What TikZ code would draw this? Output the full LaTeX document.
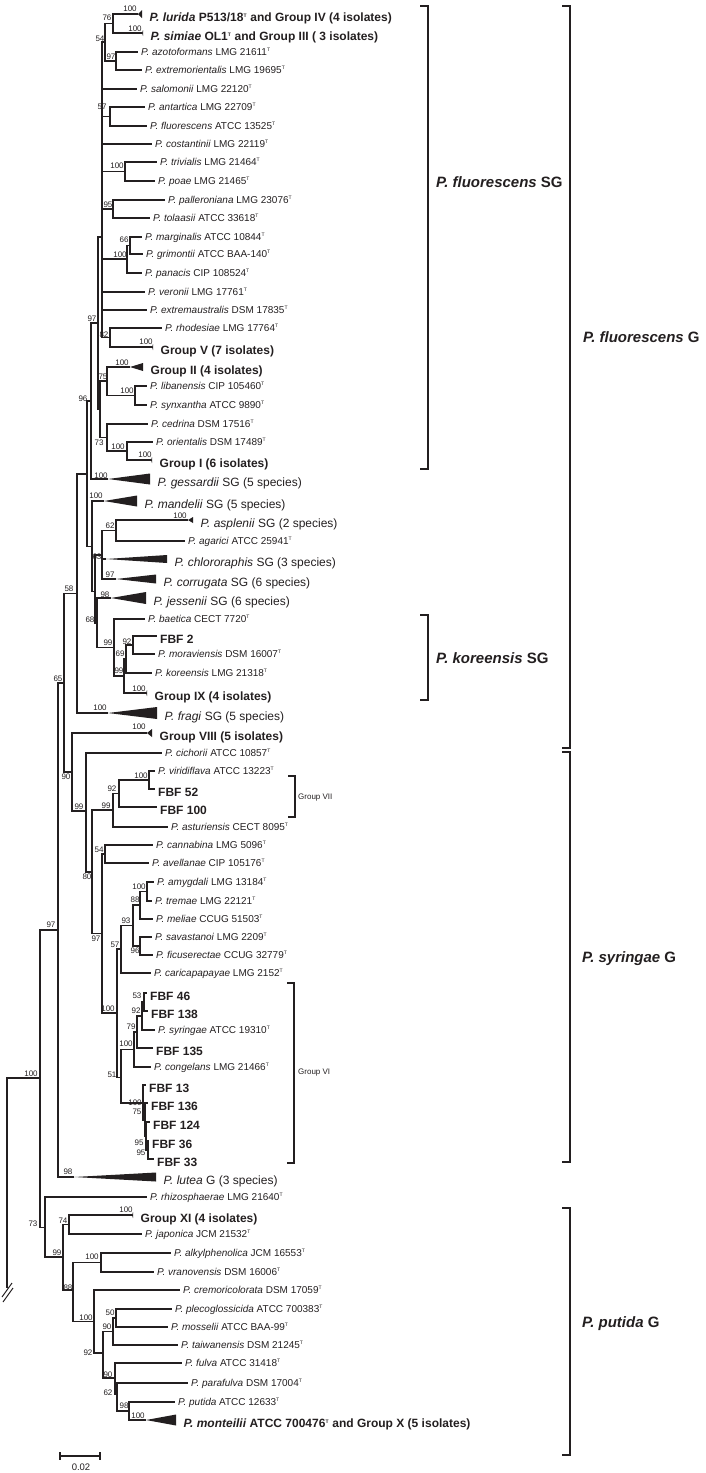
\documentclass[tikz,border=0pt]{standalone}
\usepackage{fontspec}
\setmainfont{Liberation Sans}
\usepackage{tikz}
\definecolor{ink}{HTML}{231F20}
\newcommand{\typ}{\textsuperscript{\fontsize{5}{5}\selectfont T}}
\newcommand{\pse}[1]{\textit{P. #1}}

\begin{document}
\begin{tikzpicture}[x=1pt,y=-1pt,
  branch/.style={draw=ink,line width=1.3pt},
  bracket/.style={draw=ink,line width=1.5pt},
  leaf/.style={anchor=base west,inner sep=0pt,xshift=3pt,yshift=-3.6pt,font=\fontsize{10}{12}\selectfont,text=ink},
  isol/.style={leaf,yshift=-4.3pt,font=\fontsize{12}{14}\selectfont\bfseries},
  clade/.style={leaf,xshift=4.5pt,yshift=-4.3pt,font=\fontsize{12}{14}\selectfont},
  boot/.style={inner sep=0pt,font=\fontsize{8}{9}\selectfont,text=ink},
  grouplab/.style={anchor=base west,inner sep=0pt,yshift=-5.4pt,font=\fontsize{15}{18}\selectfont\bfseries,text=ink},
  smalllab/.style={anchor=base west,inner sep=0pt,yshift=-2.9pt,font=\fontsize{8}{9}\selectfont,text=ink}]
  \useasboundingbox (0,0) rectangle (706,1473);

  % internal nodes (x, y of the stem)
  \foreach \n/\x/\y in {nC/102/237, n54/105/42, n76/113/23.5, n97b/116/61, n5x/110/116.5,
      n100a/125/171.5, n95/113/209, n100b/127/259, n66/130/245.5, n82/110/337.5,
      nL/100/409, n75/107/381, n100c/135/395.5, n73/107/437.5, n100d/127/451,
      n97/98/323, n96/91/401, nX/87/474, nY/92/546.5, nW/95/591.5, n63/102/555,
      n62/116/530.5, n68/97/623, n99a/114/647.5, n99b/124/676, n69/126/659, n92a/133/645,
      n58/77/593.5, n65/64/683, n90/72/772, n99c/86/811, n80/92/872, n99d/113/810,
      n92b/119/793.5, n100e/149/780, n97c/102/933.5, n54b/105/854, n100f/117/1013,
      n57/121/949, n93/133/925.5, n88/140/905, n100g/147/891.5, n96b/140/946,
      n51/121/1077.5, n100h/134/1049.5, n79/137/1032, n92c/142/1016, n53/144/1002,
      n100i/143/1103, n75b/145/1120, n95a/146/1136, n95b/148/1150,
      n97d/58/930, nR/40/1078, n73b/45/1227.5, n99e/63/1257, n74/69/1224.5, n88b/73/1290,
      n100j/101/1262.5, n100k/94/1321.5, n92d/103/1353, n90b/113/1331.5, n50/116/1318,
      n90c/115/1378, n62b/117/1394, n98/129/1411}
    \coordinate (\n) at (\x,\y);

  % type strains
  \foreach \n/\x/\y/\t in {
      azotoformans/138/52/{\pse{azotoformans} LMG 21611\typ},
      extremorientalis/142/70/{\pse{extremorientalis} LMG 19695\typ},
      salomonii/137/89/{\pse{salomonii} LMG 22120\typ},
      antartica/145/107/{\pse{antartica} LMG 22709\typ},
      fluorescens/147/126/{\pse{fluorescens} ATCC 13525\typ},
      costantinii/152/144/{\pse{costantinii} LMG 22119\typ},
      trivialis/157/162/{\pse{trivialis} LMG 21464\typ},
      poae/155/181/{\pse{poae} LMG 21465\typ},
      palleroniana/165/200/{\pse{palleroniana} LMG 23076\typ},
      tolaasii/150/218/{\pse{tolaasii} ATCC 33618\typ},
      marginalis/142/237/{\pse{marginalis} ATCC 10844\typ},
      grimontii/143/254/{\pse{grimontii} ATCC BAA-140\typ},
      panacis/142/273/{\pse{panacis} CIP 108524\typ},
      veronii/145/292/{\pse{veronii} LMG 17761\typ},
      extremaustralis/147/310/{\pse{extremaustralis} DSM 17835\typ},
      rhodesiae/162/328/{\pse{rhodesiae} LMG 17764\typ},
      libanensis/147/386/{\pse{libanensis} CIP 105460\typ},
      synxantha/147/405/{\pse{synxantha} ATCC 9890\typ},
      cedrina/148/424/{\pse{cedrina} DSM 17516\typ},
      orientalis/153/442/{\pse{orientalis} DSM 17489\typ},
      agarici/185/541/{\pse{agarici} ATCC 25941\typ},
      baetica/145/619/{\pse{baetica} CECT 7720\typ},
      moraviensis/155/654/{\pse{moraviensis} DSM 16007\typ},
      koreensis/152/673/{\pse{koreensis} LMG 21318\typ},
      cichorii/162/753/{\pse{cichorii} ATCC 10857\typ},
      viridiflava/155/771/{\pse{viridiflava} ATCC 13223\typ},
      asturiensis/168/827/{\pse{asturiensis} CECT 8095\typ},
      cannabina/153/845/{\pse{cannabina} LMG 5096\typ},
      avellanae/149/863/{\pse{avellanae} CIP 105176\typ},
      amygdali/154/882/{\pse{amygdali} LMG 13184\typ},
      tremae/152/901/{\pse{tremae} LMG 22121\typ},
      meliae/153/919/{\pse{meliae} CCUG 51503\typ},
      savastanoi/152/937/{\pse{savastanoi} LMG 2209\typ},
      ficuserectae/153/955/{\pse{ficuserectae} CCUG 32779\typ},
      caricapapayae/151/973/{\pse{caricapapayae} LMG 2152\typ},
      syringae/155/1030/{\pse{syringae} ATCC 19310\typ},
      congelans/151/1067/{\pse{congelans} LMG 21466\typ},
      rhizosphaerae/147/1197/{\pse{rhizosphaerae} LMG 21640\typ},
      japonica/142/1234/{\pse{japonica} JCM 21532\typ},
      alkylphenolica/171/1253/{\pse{alkylphenolica} JCM 16553\typ},
      vranovensis/154/1272/{\pse{vranovensis} DSM 16006\typ},
      cremoricolorata/180/1290/{\pse{cremoricolorata} DSM 17059\typ},
      plecoglossicida/172/1309/{\pse{plecoglossicida} ATCC 700383\typ},
      mosselii/168/1327/{\pse{mosselii} ATCC BAA-99\typ},
      taiwanensis/178/1345/{\pse{taiwanensis} DSM 21245\typ},
      fulva/182/1363/{\pse{fulva} ATCC 31418\typ},
      parafulva/188/1383/{\pse{parafulva} DSM 17004\typ},
      putida/175/1402/{\pse{putida} ATCC 12633\typ}}{
    \coordinate (\n) at (\x,\y);
    \node[leaf] (t\n) at (\n) {\t};
  }

  % isolates of this study
  \foreach \n/\x/\y/\t in {fbf2/157/636/{FBF 2}, fbf52/155/789/{FBF 52}, fbf100/157/807/{FBF 100},
      fbf46/147/993/{FBF 46}, fbf138/148/1011/{FBF 138}, fbf135/153/1048/{FBF 135},
      fbf13/146/1085/{FBF 13}, fbf136/148/1103/{FBF 136}, fbf124/150/1122/{FBF 124},
      fbf36/149/1141/{FBF 36}, fbf33/154/1159/{FBF 33}}{
    \coordinate (\n) at (\x,\y);
    \node[isol] (t\n) at (\n) {\t};
  }

  % collapsed clades: apex x, y, length, half height
  \foreach \n/\x/\y/\l/\h/\t in {
      lurida/138/14/4/4/{\bfseries\pse{lurida} P513/18\typ\ and Group IV (4 isolates)},
      simiae/142/33/1/3/{\bfseries\pse{simiae} OL1\typ\ and Group III ( 3 isolates)},
      grpV/152/347/1/3/{\bfseries Group V (7 isolates)},
      grpII/130/367/13/4/{\bfseries Group II (4 isolates)},
      grpI/151/460/1/3/{\bfseries Group I (6 isolates)},
      gessardii/108/479/42/5.5/{\pse{gessardii} SG (5 species)},
      mandelii/104/501/33/5.5/{\pse{mandelii} SG (5 species)},
      asplenii/188/520/5/3/{\pse{asplenii} SG (2 species)},
      chlororaphis/106/559/61/4/{\pse{chlororaphis} SG (3 species)},
      corrugata/116/579/40/4.5/{\pse{corrugata} SG (6 species)},
      jessenii/111/598/35/6/{\pse{jessenii} SG (6 species)},
      grpIX/146/693/1/3/{\bfseries Group IX (4 isolates)},
      fragi/108/713/49/6/{\pse{fragi} SG (5 species)},
      grpVIII/147/733/5/4/{\bfseries Group VIII (5 isolates)},
      lutea/74/1177/82/4.5/{\pse{lutea} G (3 species)},
      grpXI/132/1215/1/3/{\bfseries Group XI (4 isolates)},
      monteilii/146/1420/30/5.5/{\bfseries\pse{monteilii} ATCC 700476\typ\ and Group X (5 isolates)}}{
    \coordinate (\n) at (\x,\y);
    \fill[ink] (\n) -- ++(\l,-\h) -- ++(0,2*\h) -- cycle;
    \node[clade] (t\n) at (\x+\l,\y) {\t};
  }

  % branches, parent to child
  \foreach \p/\c in {nC/n54, nC/salomonii, nC/n5x, nC/costantinii, nC/n100a, nC/n95, nC/n100b,
      nC/veronii, nC/extremaustralis, nC/n82, n54/n76, n54/n97b, n76/lurida, n76/simiae,
      n97b/azotoformans, n97b/extremorientalis, n5x/antartica, n5x/fluorescens,
      n100a/trivialis, n100a/poae, n95/palleroniana, n95/tolaasii, n100b/n66, n100b/panacis,
      n66/marginalis, n66/grimontii, n82/rhodesiae, n82/grpV,
      nL/n75, nL/n73, n75/grpII, n75/n100c, n100c/libanensis, n100c/synxantha,
      n73/cedrina, n73/n100d, n100d/orientalis, n100d/grpI,
      n97/nC, n97/nL, n96/n97, n96/gessardii, nX/n96, nX/nY, nY/mandelii, nY/nW,
      nW/n63, nW/n68, n63/n62, n63/chlororaphis, n63/corrugata, n62/asplenii, n62/agarici,
      n68/jessenii, n68/n99a, n99a/baetica, n99a/n99b, n99b/n69, n99b/grpIX,
      n69/n92a, n69/koreensis, n92a/fbf2, n92a/moraviensis,
      n58/nX, n58/fragi, n65/n58, n65/n90, n90/grpVIII, n90/n99c, n99c/cichorii, n99c/n80,
      n80/n99d, n80/n97c, n99d/n92b, n99d/asturiensis, n92b/n100e, n92b/fbf100,
      n100e/viridiflava, n100e/fbf52, n97c/n54b, n97c/n100f, n54b/cannabina, n54b/avellanae,
      n100f/n57, n100f/n51, n57/n93, n57/caricapapayae, n93/n88, n93/n96b,
      n88/n100g, n88/meliae, n100g/amygdali, n100g/tremae, n96b/savastanoi, n96b/ficuserectae,
      n51/n100h, n51/n100i, n100h/n79, n100h/congelans, n79/n92c, n79/fbf135,
      n92c/n53, n92c/syringae, n53/fbf46, n53/fbf138, n100i/fbf13, n100i/n75b,
      n75b/fbf136, n75b/n95a, n95a/fbf124, n95a/n95b, n95b/fbf36, n95b/fbf33,
      n97d/n65, n97d/lutea, nR/n97d, nR/n73b, n73b/rhizosphaerae, n73b/n99e,
      n99e/n74, n99e/n88b, n74/grpXI, n74/japonica, n88b/n100j, n88b/n100k,
      n100j/alkylphenolica, n100j/vranovensis, n100k/cremoricolorata, n100k/n92d,
      n92d/n90b, n92d/n90c, n90b/n50, n90b/taiwanensis, n50/plecoglossicida, n50/mosselii,
      n90c/fulva, n90c/n62b, n62b/parafulva, n62b/n98, n98/putida, n98/monteilii}
    \draw[branch] (\p) |- (\c);

  % root with broken outgroup branch
  \coordinate (base) at (7,1078);
  \coordinate (cut) at (7,1288);
  \draw[branch] (nR) -- (base) -- (cut);
  \draw[branch,line width=1pt] (2,1297) -- (12,1283) (3,1302) -- (13,1288);

  % bootstrap values
  \foreach \v/\x/\y [count=\i] in {76/107/18, 100/130/9, 100/135/29, 54/100/39, 97/111/57,
      57/102/107, 100/117/166, 95/108/205, 66/124/240, 100/120/255, 82/104/335, 100/146/342,
      97/92/319, 100/122/363, 75/103/377, 100/127/391, 100/118/447, 100/145/455, 73/99/443,
      96/83/399, 100/101/476, 100/96/496, 62/110/526, 100/180/516, 63/97/557, 97/110/575,
      98/105/595, 68/90/620, 99/108/643, 92/127/642, 69/120/654, 99/119/671, 100/139/689,
      100/100/708, 58/69/589, 65/58/679, 100/139/727, 90/66/777, 100/141/776, 92/112/789,
      99/106/806, 99/79/807, 54/99/850, 80/87/877, 100/139/887, 88/135/900, 93/126/921,
      96/135/951, 57/115/945, 97/96/939, 53/137/996, 92/136/1011, 79/131/1027, 100/126/1044,
      51/112/1075, 100/108/1009, 100/135/1103, 75/137/1112, 95/139/1143, 95/141/1153,
      98/68/1172, 97/51/925, 100/31/1074, 73/33/1224, 74/63/1221, 100/126/1210, 99/57/1253,
      100/92/1257, 88/68/1288, 50/110/1313, 100/86/1318, 90/107/1327, 92/88/1353, 90/108/1375,
      62/108/1393, 98/124/1406, 100/138/1416}
    \node[boot] (bs\i) at (\x,\y) {\v};

  % brackets
  \draw[bracket] (420,6) -| (428,469) -- (420,469);
  \draw[bracket] (420,615) -| (428,700) -- (420,700);
  \draw[bracket] (562,6) -| (570,748) -- (562,748);
  \draw[bracket] (562,752) -| (570,1162) -- (562,1162);
  \draw[bracket] (562,1208) -| (570,1455) -- (562,1455);
  \draw[bracket,line width=1.2pt] (288,776) -| (295,817) -- (288,817);
  \draw[bracket,line width=1.2pt] (287,983) -| (294,1163) -- (287,1163);
  \node[grouplab] (lflSG) at (436,182) {\pse{fluorescens} SG};
  \node[grouplab] (lkoSG) at (436,658) {\pse{koreensis} SG};
  \node[grouplab] (lflG) at (583,337) {\pse{fluorescens} G};
  \node[grouplab] (lsyG) at (582,957) {\pse{syringae} G};
  \node[grouplab] (lpuG) at (582,1322) {\pse{putida} G};
  \node[smalllab] (lgVII) at (298,797) {Group VII};
  \node[smalllab] (lgVI) at (298,1072) {Group VI};

  % scale bar
  \draw[branch] (60,1452) -- (60,1460) (60,1456) -- (100,1456) (100,1452) -- (100,1460);
  \node[boot,font=\fontsize{9.5}{11}\selectfont] (scale) at (81,1467) {0.02};
\end{tikzpicture}
\end{document}
